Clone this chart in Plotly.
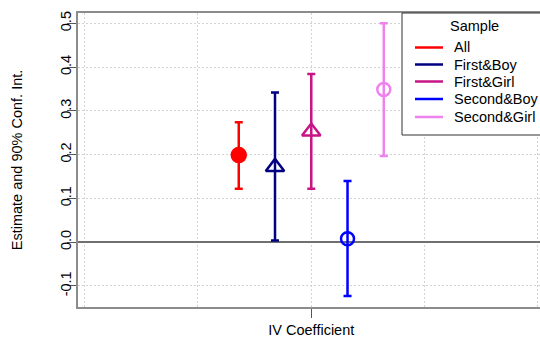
import plotly.graph_objects as go

# ---- data ----
samples = ["All", "First&Boy", "First&Girl", "Second&Boy", "Second&Girl"]
estimates = [0.199, 0.172, 0.253, 0.008, 0.349]
ci_low = [0.122, 0.004, 0.122, -0.123, 0.197]
ci_high = [0.274, 0.342, 0.384, 0.140, 0.500]
colors = ["#FF0000", "#000080", "#C71585", "#0000FF", "#EE82EE"]
symbols = ["circle", "triangle-up-open", "triangle-up-open", "circle-open", "circle-open"]
sizes = [14, 16, 16, 13, 13]
y_ticks = [-0.1, 0.0, 0.1, 0.2, 0.3, 0.4, 0.5]
x_label = "IV Coefficient"

FONT = "Liberation Sans, Arial, sans-serif"
FS = 14.5
W, H = 540, 341
L, R, T, B = 78, 0, 13, 34
PW, PH = W - L - R, H - T - B
GRID = "#D3D3D3"
DASH = "2px,2px"

def px(xp):
    return (xp - L) / PW

def py(yp):
    return (H - B - yp) / PH

dodge = 0.32
fig = go.Figure()
for i, s in enumerate(samples):
    fig.add_trace(go.Scatter(
        x=[(i - 2) * dodge], y=[estimates[i]],
        mode="markers", name=s, showlegend=False,
        marker=dict(symbol=symbols[i], size=sizes[i], color=colors[i],
                    line=dict(color=colors[i], width=2.5)),
        error_y=dict(type="data", symmetric=False,
                     array=[ci_high[i] - estimates[i]],
                     arrayminus=[estimates[i] - ci_low[i]],
                     color=colors[i], thickness=2.5, width=4),
    ))

shapes = []
annotations = []
# legend box
shapes.append(dict(type="rect", xref="paper", yref="paper",
                   x0=px(402), x1=px(600), y0=py(135), y1=py(13),
                   line=dict(color="#333333", width=1), fillcolor="white", layer="above"))
annotations.append(dict(xref="paper", yref="paper", x=px(474), y=py(26),
                        text="Sample", showarrow=False, xanchor="center", yanchor="middle",
                        font=dict(family=FONT, size=FS, color="black")))
leg_y = [47.5, 64.5, 81.5, 99, 117]
for i, s in enumerate(samples):
    shapes.append(dict(type="line", xref="paper", yref="paper",
                       x0=px(415), x1=px(443), y0=py(leg_y[i]), y1=py(leg_y[i]),
                       line=dict(color=colors[i], width=2.5), layer="above"))
    annotations.append(dict(xref="paper", yref="paper", x=px(452), y=py(leg_y[i]),
                            text=s, showarrow=False, xanchor="left", yanchor="middle",
                            font=dict(family=FONT, size=FS, color="black")))

fig.update_layout(
    width=W, height=H,
    margin=dict(l=L, r=R, t=T, b=B, pad=0),
    paper_bgcolor="white", plot_bgcolor="white",
    font=dict(family=FONT, size=FS, color="black"),
    showlegend=False,
    shapes=shapes, annotations=annotations,
    xaxis=dict(
        range=[-2.059, 2.019], tickmode="array", tickvals=[0], ticktext=[x_label],
        ticks="outside", ticklen=9, tickcolor="#555555", tickwidth=1,
        showgrid=True, gridcolor=GRID, griddash=DASH, gridwidth=1,
        minor=dict(tickmode="array", tickvals=[-2, -1, 1, 2], showgrid=True,
                   gridcolor=GRID, griddash=DASH, gridwidth=1, ticks=""),
        zeroline=False, showline=True, mirror=True, linecolor="#8C8C8C", linewidth=2,
        tickfont=dict(family=FONT, size=FS, color="black"),
    ),
    yaxis=dict(
        range=[-0.148, 0.5235], tickmode="array", tickvals=y_ticks,
        ticktext=[f"{v:.1f}" for v in y_ticks], tickangle=-90,
        ticks="outside", ticklen=9, tickcolor="#555555", tickwidth=1,
        ticklabelstandoff=-10,
        showgrid=True, gridcolor=GRID, griddash=DASH, gridwidth=1,
        zeroline=True, zerolinecolor="#707070", zerolinewidth=1.5,
        showline=True, mirror=False, linecolor="#8C8C8C", linewidth=2,
        tickfont=dict(family=FONT, size=FS, color="black"),
        title=dict(text="Estimate and 90% Conf. Int.", standoff=32,
                   font=dict(family=FONT, size=FS, color="black")),
    ),
)

fig.write_html("out.html")
